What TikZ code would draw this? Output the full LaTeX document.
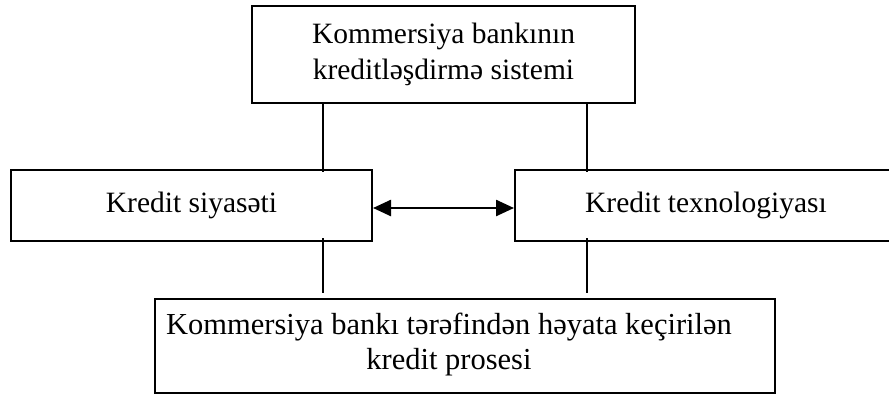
\documentclass[tikz,border=0pt]{standalone}
\usepackage{fontspec}
\setmainfont{Liberation Serif}
\usetikzlibrary{arrows.meta}

\tikzset{
  blockbox/.style={draw=black, line width=2pt, inner sep=0pt, align=center,
    font=\fontsize{29.5}{36}\selectfont},
  blocktext/.style={inner sep=0pt, align=center,
    font=\fontsize{30.5}{35}\selectfont},
  link/.style={draw=black, line width=2pt},
  dualarrow/.style={draw=black, line width=2.5pt,
    {Triangle[length=18pt,width=16pt]}-{Triangle[length=18pt,width=16pt]}}
}

\begin{document}
\begin{tikzpicture}[x=1pt,y=-1pt]
  \clip (0,0) rectangle (889,394);
  \fill[white] (0,0) rectangle (889,394);

  % blocks
  \node[blockbox, minimum width=383pt, minimum height=97pt] (sys) at (443.5,54.5)
    {Kommersiya bankının\\kreditləşdirmə sistemi};
  \node[blockbox, minimum width=361pt, minimum height=71pt] (pol) at (191.5,205.5)
    {Kredit siyasəti};
  \node[blockbox, minimum width=382pt, minimum height=71pt] (tech) at (706,205.5)
    {Kredit texnologiyası};
  \node[blockbox, minimum width=620pt, minimum height=94pt] (proc) at (465,346) {};
  \node[blocktext] (proctext) at (449,345)
    {Kommersiya bankı tərəfindən həyata keçirilən\\kredit prosesi};

  % columns of the vertical links and level of the arrow
  \coordinate (colA) at (323,0);
  \coordinate (colB) at (587,0);
  \coordinate (arrowlevel) at (0,208);

  % vertical links
  \draw[link, shorten >=-3pt] (sys.south -| colA) -- (pol.north -| colA);
  \draw[link, shorten >=-3pt] (sys.south -| colB) -- (tech.north -| colB);
  \draw[link, shorten <=-4pt, shorten >=5pt] (pol.south -| colA) -- (proc.north -| colA);
  \draw[link, shorten <=-4pt, shorten >=5pt] (tech.south -| colB) -- (proc.north -| colB);

  % two-way arrow between the middle blocks
  \draw[dualarrow] (pol.east |- arrowlevel) -- (tech.west |- arrowlevel);
\end{tikzpicture}
\end{document}
